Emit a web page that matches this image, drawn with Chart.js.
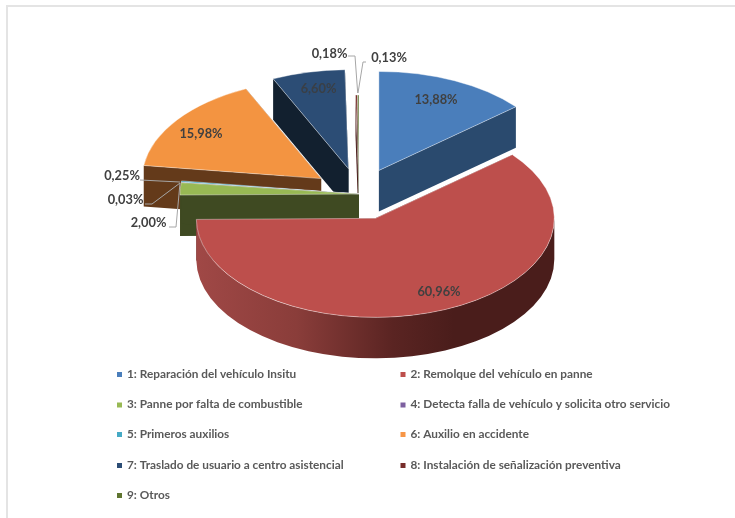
<!DOCTYPE html>
<html lang="es">
<head>
<meta charset="utf-8">
<title>Servicios de asistencia</title>
<script src="https://cdn.jsdelivr.net/npm/chart.js@4/dist/chart.umd.min.js"></script>
<style>
html,body{margin:0;padding:0;background:#fff;}
#wrap{position:relative;width:735px;height:518px;overflow:hidden;}
#frame{position:absolute;left:6px;top:5px;right:0;bottom:0;border-left:2px solid #e4e4e4;border-top:2px solid #e4e4e4;}
canvas{position:absolute;left:0;top:0;filter:blur(.4px);}
</style>
</head>
<body>
<div id="wrap"><div id="frame"></div><canvas id="c" width="735" height="518"></canvas></div>
<script>
// ---- data ----
const categories = [
  "1: Reparación del vehículo Insitu",
  "2: Remolque del vehículo en panne",
  "3: Panne por falta de combustible",
  "4: Detecta falla de vehículo y solicita otro servicio",
  "5: Primeros auxilios",
  "6: Auxilio en accidente",
  "7: Traslado de usuario a centro asistencial",
  "8: Instalación de señalización preventiva",
  "9: Otros"
];
const values = [13.88, 60.96, 2.00, 0.03, 0.25, 15.98, 6.60, 0.18, 0.13];
const explode = [47, 47, 0, 0, 0, 47, 47, 0, 0];

// ---- styles ----
const topColors  = ["#4a7ebb","#bd4f4c","#98b954","#7d60a0","#46aac5","#f39441","#2c4d75","#772c2a","#5f7530"];
const sideColors = ["#2a4a6e","#4f1f1d","#3f4a22","#4a3860","#2a6475","#643a1a","#12202f","#461917","#38451c"];
const swatchColors = ["#4a7ebb","#bd4f4c","#98b954","#7d60a0","#46aac5","#f79646","#2c4d75","#772c2a","#5f7530"];
const paintOrder = [6,7,8,5,4,3,2,0,1];
const SQUASH = 0.553, DEPTH = 41;
const TEXT = "#595959";
const LABEL_FONT = "700 12.8px Lato, sans-serif";
const LEGEND_FONT = "700 11.8px Lato, sans-serif";

// label anchor (x, y) and optional leader polyline
const labelLayout = [
  {x:436,y:100},
  {x:439,y:292},
  {x:148.5,y:223,leader:[[169,227],[176,227],[180,183]]},
  {x:125.5,y:200,leader:[[145,204],[152,204],[180,183]]},
  {x:122,y:175.5,leader:[[140,180],[180,182]]},
  {x:201,y:134},
  {x:318.5,y:89},
  {x:329.5,y:54,leader:[[348,56],[355,56],[357.7,93]]},
  {x:389,y:58,leader:[[366,62],[363,62],[358,93]]}
];
const legendCols = [119, 402.5];
const legendRows = [374, 404.5, 434, 465, 495];
const legendTextGap = 8;

const fmt = v => v.toFixed(2).replace(".", ",") + "%";

const pie3d = {
  id: "pie3d",
  beforeDatasetsDraw(chart) {
    const ctx = chart.ctx;
    const arcs = chart.getDatasetMeta(0).data;
    for (const i of paintOrder) {
      const arc = arcs[i];
      const a0 = arc.startAngle, a1 = arc.endAngle, r = arc.outerRadius;
      const mid = (a0 + a1) / 2, off = explode[i];
      const cx = arc.x + Math.cos(mid) * off;
      const cy = arc.y + Math.sin(mid) * off * SQUASH;
      const px = a => cx + Math.cos(a) * r;
      const py = a => cy + Math.sin(a) * r * SQUASH;
      // cut faces
      ctx.fillStyle = sideColors[i];
      for (const a of [a0, a1]) {
        ctx.beginPath();
        ctx.moveTo(cx, cy); ctx.lineTo(px(a), py(a));
        ctx.lineTo(px(a), py(a) + DEPTH); ctx.lineTo(cx, cy + DEPTH);
        ctx.closePath(); ctx.fill();
      }
      // rim, visible on the front half of the ellipse only
      const s = Math.max(a0, 0), e = Math.min(a1, Math.PI);
      if (e > s) {
        const g = ctx.createLinearGradient(cx - r, 0, cx + r, 0);
        g.addColorStop(0, "#a04846");
        g.addColorStop(0.28, "#8a3d3a");
        g.addColorStop(0.55, "#5a2422");
        g.addColorStop(0.72, "#4a1d1b");
        g.addColorStop(1, "#4a1d1b");
        ctx.fillStyle = g;
        ctx.beginPath();
        ctx.ellipse(cx, cy, r, r * SQUASH, 0, s, e);
        ctx.ellipse(cx, cy + DEPTH, r, r * SQUASH, 0, e, s, true);
        ctx.closePath(); ctx.fill();
      }
      // top face
      ctx.beginPath();
      ctx.moveTo(cx, cy);
      ctx.ellipse(cx, cy, r, r * SQUASH, 0, a0, a1);
      ctx.closePath();
      ctx.fillStyle = topColors[i];
      ctx.fill();
      ctx.strokeStyle = "rgba(255,255,255,.5)";
      ctx.lineWidth = 0.8;
      ctx.stroke();
    }
    return false;
  },
  afterDraw(chart) {
    const ctx = chart.ctx;
    // leaders and data labels
    ctx.strokeStyle = "#a6a6a6";
    ctx.lineWidth = 1;
    labelLayout.forEach(l => {
      if (!l.leader) return;
      ctx.beginPath();
      l.leader.forEach((p, j) => j ? ctx.lineTo(p[0], p[1]) : ctx.moveTo(p[0], p[1]));
      ctx.stroke();
    });
    ctx.font = LABEL_FONT;
    ctx.textAlign = "center";
    ctx.textBaseline = "middle";
    values.forEach((v, i) => {
      ctx.fillStyle = i === 6 ? "#3a3f45" : "#404040";
      ctx.fillText(fmt(v), labelLayout[i].x, labelLayout[i].y);
    });
    // two-column legend, row by row
    ctx.font = LEGEND_FONT;
    ctx.textAlign = "left";
    categories.forEach((name, i) => {
      const x = legendCols[i % 2], y = legendRows[Math.floor(i / 2)];
      ctx.fillStyle = swatchColors[i];
      ctx.fillRect(x - 2, y - 2, 5, 5);
      ctx.fillStyle = TEXT;
      ctx.fillText(name, x + legendTextGap, y);
    });
  }
};

new Chart(document.getElementById("c"), {
  type: "pie",
  data: {
    labels: categories,
    datasets: [{ data: values, backgroundColor: topColors, borderWidth: 0 }]
  },
  options: {
    responsive: false,
    animation: false,
    radius: 179,
    layout: { padding: { right: 17, bottom: 130 } },
    plugins: { legend: { display: false }, tooltip: { enabled: false }, title: { display: false } }
  },
  plugins: [pie3d]
});
</script>
</body>
</html>
